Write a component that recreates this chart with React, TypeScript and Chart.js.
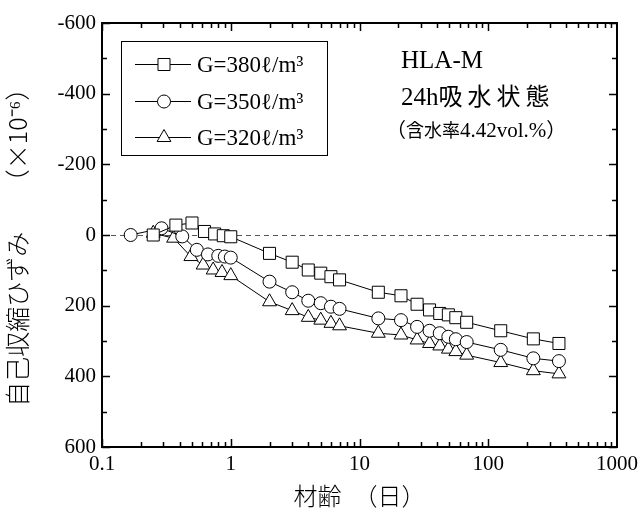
import React, { useEffect, useRef } from 'react';
import { Chart, registerables } from 'chart.js';

Chart.register(...registerables);

// ---- data ----
const ages380 = [0.25, 0.375, 0.5, 0.625, 0.75, 0.875, 1.0, 2, 3, 4, 5, 6, 7, 14, 21, 28, 35, 42, 49, 56, 68, 125, 224, 354];
const strain380 = [0, -28, -34, -10, -3, 2, 5, 52, 77, 99, 108, 118, 127, 162, 172, 196, 212, 222, 226, 234, 247, 271, 294, 307];

const ages350 = [0.167, 0.29, 0.42, 0.545, 0.665, 0.8, 0.9, 1.0, 2, 3, 4, 5, 6, 7, 14, 21, 28, 35, 42, 49, 56, 68, 125, 224, 354];
const strain350 = [0, -19, 4, 42, 55, 59, 61, 64, 132, 162, 186, 193, 203, 209, 236, 241, 260, 271, 278, 288, 295, 303, 325, 349, 357];

const ages320 = [0.25, 0.36, 0.49, 0.61, 0.73, 0.855, 1.0, 2, 3, 4, 5, 6, 7, 14, 21, 28, 35, 42, 49, 56, 68, 125, 224, 354];
const strain320 = [-5, 9, 61, 85, 99, 106, 115, 189, 214, 233, 241, 250, 257, 278, 283, 297, 307, 314, 323, 330, 340, 361, 384, 393];

const seriesLabels = ['G=380ℓ/m³', 'G=350ℓ/m³', 'G=320ℓ/m³'];
const seriesStyles = ['rect', 'circle', 'triangle'];
const seriesRadius = [8.5, 6.5, 8];

const xMajorTicks = [0.1, 1, 10, 100, 1000];
const yMin = -600;
const yMax = 600;
const yStep = 200;

const xTitle = '材齢　（日）';
const yTitle = '自己収縮ひずみ　　（×10⁻⁶）　';

const SERIF = "'Liberation Serif', 'Times New Roman', 'Noto Sans CJK JP', serif";
const CJK = "'Noto Sans CJK JP', 'Liberation Serif', sans-serif";

function drawMarker(ctx: CanvasRenderingContext2D, style: string, r: number, x: number, y: number) {
  ctx.beginPath();
  if (style === 'rect') {
    const s = Math.SQRT1_2 * r;
    ctx.rect(x - s, y - s, 2 * s, 2 * s);
  } else if (style === 'circle') {
    ctx.arc(x, y, r, 0, Math.PI * 2);
  } else {
    const h = Math.sin(Math.PI / 3) * r;
    ctx.moveTo(x, y - r);
    ctx.lineTo(x + h, y + r * 0.5);
    ctx.lineTo(x - h, y + r * 0.5);
    ctx.closePath();
  }
  ctx.fillStyle = '#fff';
  ctx.fill();
  ctx.strokeStyle = '#000';
  ctx.lineWidth = 1;
  ctx.stroke();
}

// draw a run of [text, font, letterSpacing] segments from x on baseline y
function drawRun(ctx: any, segs: [string, string, number][], x: number, y: number) {
  let cx = x;
  for (const [t, f, ls] of segs) {
    ctx.font = f;
    ctx.letterSpacing = `${ls}px`;
    ctx.fillText(t, cx, y);
    cx += ctx.measureText(t).width;
  }
  ctx.letterSpacing = '0px';
}

const framePlugin = {
  id: 'framePlugin',
  beforeDatasetsDraw(chart: any) {
    const { ctx, chartArea, scales } = chart;
    const y0 = Math.round(scales.y.getPixelForValue(0)) + 0.5;
    ctx.save();
    ctx.strokeStyle = '#555';
    ctx.lineWidth = 1;
    ctx.setLineDash([5, 4]);
    ctx.beginPath();
    ctx.moveTo(chartArea.left, y0);
    ctx.lineTo(chartArea.right, y0);
    ctx.stroke();
    ctx.restore();
  },
  afterDraw(chart: any) {
    const { ctx, chartArea, scales } = chart;
    const { left, right, top, bottom } = chartArea;
    ctx.save();
    ctx.strokeStyle = '#000';
    ctx.lineWidth = 1.5;
    for (let d = -1; d < 3; d++) {
      for (let m = 1; m <= 9; m++) {
        const v = m * Math.pow(10, d);
        const px = Math.round(scales.x.getPixelForValue(v)) + 0.5;
        const len = m === 1 ? 8 : 5;
        ctx.beginPath();
        ctx.moveTo(px, bottom);
        ctx.lineTo(px, bottom - len);
        ctx.moveTo(px, top);
        ctx.lineTo(px, top + len);
        ctx.stroke();
      }
    }
    for (let v = yMin; v <= yMax; v += yStep / 2) {
      const py = Math.round(scales.y.getPixelForValue(v)) + 0.5;
      const len = v % yStep === 0 ? 8 : 5;
      ctx.beginPath();
      ctx.moveTo(left, py);
      ctx.lineTo(left + len, py);
      ctx.moveTo(right, py);
      ctx.lineTo(right - len, py);
      ctx.stroke();
    }
    ctx.lineWidth = 2;
    ctx.strokeRect(left, top, right - left, bottom - top);

    // legend
    const lx = 121, ly = 41, lw = 206, lh = 114;
    ctx.lineWidth = 1;
    ctx.strokeRect(lx + 0.5, ly + 0.5, lw, lh);
    const rowY = [64, 101, 137];
    for (let i = 0; i < 3; i++) {
      const yy = rowY[i] + 0.5;
      ctx.beginPath();
      ctx.moveTo(135, yy);
      ctx.lineTo(191, yy);
      ctx.strokeStyle = '#000';
      ctx.lineWidth = 1;
      ctx.stroke();
      drawMarker(ctx, seriesStyles[i], seriesRadius[i], 164, yy);
      ctx.fillStyle = '#000';
      ctx.font = `23px ${SERIF}`;
      ctx.textBaseline = 'alphabetic';
      ctx.textAlign = 'left';
      ctx.fillText(chart.data.datasets[i].label, 197, rowY[i] + 8);
    }

    // annotation
    ctx.fillStyle = '#000';
    ctx.textBaseline = 'alphabetic';
    ctx.textAlign = 'left';
    drawRun(ctx, [['HLA-M', `25px ${SERIF}`, 0]], 401, 68);
    drawRun(ctx, [['24h', `25px ${SERIF}`, 0], ['吸水状態', `24px ${CJK}`, 5]], 401, 105);
    drawRun(ctx, [
      ['（', `20px ${CJK}`, 0],
      ['含水率', `18px ${CJK}`, 0],
      ['4.42vol.%', `21px ${SERIF}`, 0],
      ['）', `20px ${CJK}`, 0],
    ], 386, 137);
    ctx.restore();
  },
};

export default function App() {
  const ref = useRef<HTMLCanvasElement | null>(null);
  useEffect(() => {
    if (!ref.current) return;
    const mk = (ages: number[], vals: number[], i: number) => ({
      label: seriesLabels[i],
      data: ages.map((a, k) => ({ x: a, y: vals[k] })),
      borderColor: '#000',
      borderWidth: 1,
      pointStyle: seriesStyles[i],
      pointRadius: seriesRadius[i],
      pointHoverRadius: seriesRadius[i],
      pointBackgroundColor: '#fff',
      pointBorderColor: '#000',
      pointBorderWidth: 1,
      tension: 0,
      fill: false,
    });
    const chart = new Chart(ref.current, {
      type: 'line',
      data: {
        datasets: [
          mk(ages380, strain380, 0),
          mk(ages350, strain350, 1),
          mk(ages320, strain320, 2),
        ] as any,
      },
      options: {
        animation: false,
        responsive: false,
        layout: { padding: { top: 23, right: 26, left: 0, bottom: 0 } },
        plugins: { legend: { display: false }, tooltip: { enabled: false } },
        scales: {
          x: {
            type: 'logarithmic',
            min: 0.1,
            max: 1000,
            grid: { display: false, drawTicks: false },
            border: { display: false },
            ticks: {
              autoSkip: false,
              maxRotation: 0,
              padding: 5,
              color: '#000',
              font: { family: SERIF, size: 21 },
              callback: (v: any) => {
                const n = Number(v);
                const hit = xMajorTicks.find((t) => Math.abs(Math.log10(n) - Math.log10(t)) < 1e-6);
                return hit !== undefined ? String(hit) : '';
              },
            },
            title: {
              display: true,
              text: xTitle,
              color: '#000',
              font: { family: CJK, size: 24, weight: '300' },
              padding: { top: 0, bottom: 1 },
            },
            afterFit: (s: any) => { s.height = 64; },
          },
          y: {
            min: yMin,
            max: yMax,
            reverse: true,
            grid: { display: false, drawTicks: false },
            border: { display: false },
            ticks: {
              stepSize: yStep,
              padding: 6,
              color: '#000',
              font: { family: SERIF, size: 21 },
            },
            title: {
              display: true,
              text: yTitle,
              color: '#000',
              font: { family: CJK, size: 25, weight: '300' },
              padding: { top: 2, bottom: 0 },
            },
            afterFit: (s: any) => { s.width = 102; },
          },
        },
      } as any,
      plugins: [framePlugin],
    });
    return () => chart.destroy();
  }, []);
  return (
    <div style={{ position: 'fixed', left: 0, top: 0, width: 643, height: 511, background: '#fff' }}>
      <canvas ref={ref} width={643} height={511} style={{ display: 'block' }} />
    </div>
  );
}
